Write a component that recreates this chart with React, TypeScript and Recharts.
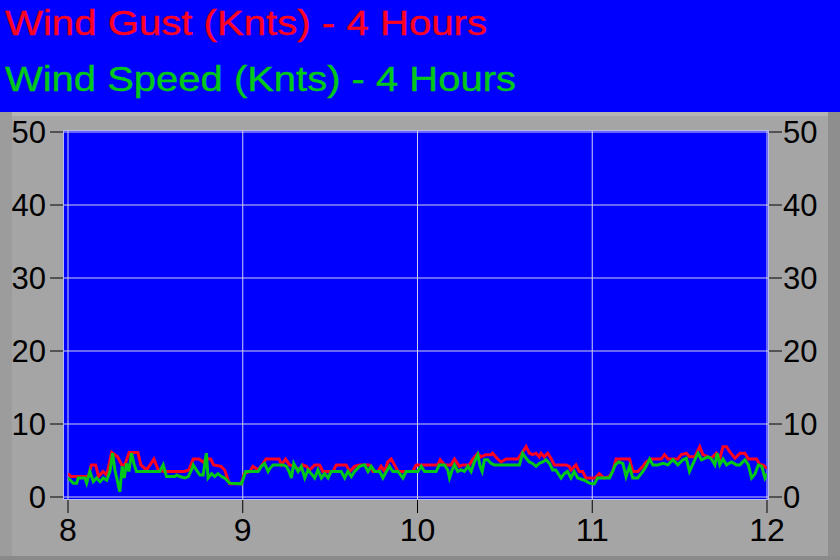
import React from 'react';
import { LineChart, Line, XAxis, YAxis, CartesianGrid } from 'recharts';

const hourTicks = [8, 9, 10, 11, 12];
const knotTicks = [0, 10, 20, 30, 40, 50];
const gustTitle = 'Wind Gust (Knts) - 4 Hours';
const speedTitle = 'Wind Speed (Knts) - 4 Hours';

// minutes after 8:00 and knots
const gustMinutes = [0, 1, 7, 8, 9.5, 10.5, 12, 13.3, 15, 17, 18.5, 19.5, 21, 24, 25, 27, 29.5, 31, 33, 40, 41.5, 43, 45, 46.4, 47.5, 49, 50, 52.5, 53.8, 55, 55.5, 59.5, 60.5, 62.4, 63.5, 65.3, 67, 68, 72.5, 73.3, 74.7, 76.1, 77.8, 79.5, 80.7, 81.8, 83, 84.7, 86.4, 87.5, 91, 92.1, 95.5, 96.7, 98.4, 100.1, 103.5, 104.7, 106.4, 107.5, 108.7, 109.8, 111, 112.1, 113.3, 118.4, 119.5, 127, 127.8, 129.3, 131.5, 132.7, 134.4, 135.5, 137.8, 139, 140.7, 141.8, 143.5, 145.3, 145.8, 147.5, 148.7, 150.4, 154.4, 155.5, 157.3, 158.4, 159.5, 160.7, 161.8, 162.4, 163.5, 164.7, 165.8, 167, 171, 172.1, 172.7, 174.4, 175.5, 176.7, 177.8, 181, 182.4, 184.1, 185.9, 187, 188.2, 192.8, 193.9, 195.6, 197.4, 198.5, 200.2, 203.7, 204.8, 206, 209.4, 210.6, 212.3, 213.4, 215.2, 216.9, 218, 219.8, 220.9, 222.6, 223.8, 224.9, 226.1, 227.2, 229, 230.7, 232.4, 233.6, 236.4, 237.6, 238.7, 240];
const gustKnots = [3.2, 2.8, 2.8, 4.4, 4.4, 2.8, 3.5, 3.0, 6.1, 5.5, 4.4, 4.4, 6.1, 6.1, 4.4, 3.7, 5.2, 3.7, 3.5, 3.5, 3.7, 5.2, 5.2, 4.8, 5.2, 5.2, 4.4, 4.2, 3.7, 2.3, 1.8, 1.8, 3.2, 3.5, 4.2, 3.7, 4.6, 5.2, 5.2, 4.4, 5.2, 4.4, 4.2, 3.7, 4.4, 4.2, 3.7, 4.4, 4.4, 3.5, 3.5, 4.4, 4.4, 3.5, 4.2, 4.4, 4.4, 3.5, 3.5, 4.2, 3.5, 4.8, 5.2, 4.4, 3.5, 3.5, 4.4, 4.4, 5.1, 4.4, 4.4, 5.2, 4.2, 4.4, 4.4, 5.2, 6.0, 5.5, 5.8, 5.8, 6.0, 5.2, 4.8, 5.2, 5.2, 5.8, 6.9, 6.0, 5.8, 6.0, 5.5, 6.0, 5.5, 6.0, 5.3, 4.4, 4.4, 4.2, 3.7, 4.4, 3.5, 3.5, 2.6, 2.6, 3.2, 2.6, 2.8, 3.5, 5.2, 5.2, 3.5, 3.5, 4.2, 4.8, 5.2, 5.2, 5.8, 5.2, 5.2, 5.8, 6.0, 5.5, 5.5, 6.9, 5.8, 5.5, 5.3, 6.0, 5.3, 6.9, 6.9, 6.2, 5.3, 6.0, 6.0, 5.2, 5.2, 4.4, 4.4, 3.9];

const speedMinutes = [0, 1.8, 3, 3.5, 5.8, 6.4, 7.5, 8.7, 9.8, 11, 12.1, 13.3, 14.4, 15.3, 16.1, 16.9, 17.8, 18.6, 19.3, 20.1, 20.9, 21.8, 22.6, 23.5, 31.5, 32.7, 33.8, 36.7, 37.3, 38.4, 40.1, 41.3, 42.4, 43, 44.1, 45.3, 46.4, 47.5, 48.1, 49.3, 50.4, 51.5, 52.7, 53.8, 55.5, 59.5, 60.1, 61, 65.3, 66.4, 67.5, 68.7, 69.3, 70.4, 73.8, 75, 75.9, 76.7, 77.5, 79, 80.1, 81.3, 82.4, 83.5, 84.7, 85.8, 87, 88.1, 89.3, 90.4, 93.8, 95, 96.1, 97.3, 98.4, 100.1, 101.8, 103, 104.1, 105.3, 107, 108.1, 109.3, 110.4, 111.5, 113.3, 115, 116.1, 120.1, 121.3, 122.4, 126.4, 127.5, 129.3, 130.4, 131, 131.9, 132.7, 133.8, 135, 136.1, 137.3, 138.4, 139.5, 140.7, 141.5, 142.2, 143, 144.1, 145.3, 146.4, 155, 156.1, 157.3, 158.4, 159.5, 160.7, 161.8, 163, 164.1, 165.3, 166.4, 167.5, 169.3, 170.4, 171.5, 172.7, 173.8, 175, 177.3, 179, 180.7, 181.8, 184.1, 185.9, 187, 187.9, 189.1, 190.5, 191.6, 192.8, 193.9, 195.6, 197.4, 198.5, 199.7, 200.8, 202.5, 204.3, 206, 207.7, 209.4, 211.1, 212.3, 213.4, 215.2, 216.3, 217.5, 218.6, 219.8, 220.9, 222.1, 222.9, 223.8, 224.9, 226.1, 227.8, 229.5, 230.7, 232.4, 233.6, 234.7, 235.9, 237, 238.2, 239.3, 240];
const speedKnots = [2.6, 1.9, 1.9, 2.6, 2.6, 1.9, 3.5, 2.1, 2.6, 2.1, 2.6, 2.3, 3.5, 6.0, 3.7, 2.3, 0.7, 4.2, 2.6, 4.6, 3.5, 6.0, 4.6, 3.5, 3.5, 4.4, 2.8, 2.8, 3.0, 2.8, 2.6, 2.8, 3.7, 4.4, 3.7, 3.0, 3.0, 6.0, 2.6, 3.2, 2.8, 3.2, 2.8, 2.6, 1.9, 1.8, 2.4, 3.5, 3.5, 4.2, 4.6, 3.5, 3.9, 4.4, 4.4, 4.2, 3.5, 2.6, 4.6, 3.5, 4.2, 2.6, 3.7, 3.2, 2.6, 3.7, 2.6, 3.2, 2.6, 3.5, 3.5, 2.6, 3.5, 2.8, 3.5, 4.2, 4.4, 3.5, 4.2, 3.5, 3.5, 2.6, 3.5, 4.2, 3.5, 3.5, 2.6, 3.5, 3.5, 4.2, 3.5, 3.5, 4.4, 4.4, 3.7, 2.6, 3.7, 4.4, 3.5, 3.7, 3.5, 4.2, 3.5, 4.8, 5.8, 4.2, 3.5, 5.1, 5.1, 4.6, 4.4, 4.4, 6.0, 5.3, 4.8, 4.6, 4.2, 4.6, 4.8, 5.1, 4.6, 3.7, 3.7, 2.6, 3.2, 3.5, 2.6, 3.5, 2.6, 2.3, 1.9, 1.8, 2.6, 2.6, 2.6, 3.5, 4.4, 4.8, 4.6, 2.8, 4.2, 2.6, 2.6, 3.5, 4.2, 5.2, 4.4, 4.4, 4.6, 4.4, 5.1, 4.4, 5.1, 5.3, 3.5, 5.1, 6.0, 5.1, 5.3, 5.5, 5.2, 4.4, 6.0, 4.4, 5.2, 4.4, 4.8, 4.4, 4.4, 5.1, 4.4, 2.6, 3.2, 4.4, 4.2, 2.6, 3.2];

const gustData = gustMinutes.map((m, i) => ({ t: 8 + m / 60, v: gustKnots[i] }));
const speedData = speedMinutes.map((m, i) => ({ t: 8 + m / 60, v: speedKnots[i] }));

const FONT = '"Liberation Sans", Arial, sans-serif';
const RED = '#ff0020';
const GREEN = '#00c818';

export default function App() {
  return (
    <div style={{ position: 'absolute', left: 0, top: 0, width: 840, height: 560, overflow: 'hidden', background: '#a5a5a5' }}>
      <svg width={840} height={112} style={{ position: 'absolute', left: 0, top: 0, display: 'block' }}>
        <rect x={0} y={0} width={840} height={112} fill="#0000ff" />
        <text x={5} y={35} fontFamily={FONT} fontSize={35} fill={RED} stroke={RED} strokeWidth={0.4} textLength={482} lengthAdjust="spacingAndGlyphs">{gustTitle}</text>
        <text x={5} y={91} fontFamily={FONT} fontSize={35} fill={GREEN} stroke={GREEN} strokeWidth={0.4} textLength={511} lengthAdjust="spacingAndGlyphs">{speedTitle}</text>
      </svg>
      <div style={{ position: 'absolute', left: 0, top: 112, width: 840, height: 4, background: '#b4b4b4' }} />
      <div style={{ position: 'absolute', left: 0, top: 112, width: 12, height: 448, background: '#9c9c9c' }} />
      <div style={{ position: 'absolute', left: 828, top: 112, width: 12, height: 448, background: '#8e8e8e' }} />
      <div style={{ position: 'absolute', left: 0, top: 556, width: 840, height: 4, background: '#8a8a8a' }} />
      <div style={{ position: 'absolute', left: 0, top: 112 }}>
        <LineChart width={840} height={448} margin={{ top: 19, right: 0, bottom: 0, left: 0 }}>
          <CartesianGrid yAxisId="left" fill="#0000ff" stroke="#d0d0e8" strokeWidth={1} horizontalValues={knotTicks} verticalValues={hourTicks} />
          <XAxis
            type="number"
            dataKey="t"
            domain={[8, 12]}
            ticks={hourTicks}
            allowDataOverflow
            padding={{ left: 4, right: 1 }}
            height={61}
            axisLine={false}
            tickSize={14}
            tickMargin={5}
            tickLine={{ stroke: '#000' }}
            tick={{ fill: '#000', fontSize: 32, fontFamily: FONT }}
          />
          <YAxis
            yAxisId="left"
            type="number"
            domain={[0, 50]}
            ticks={knotTicks}
            allowDataOverflow
            width={64}
            padding={{ top: 1, bottom: 2 }}
            axisLine={false}
            tickSize={14}
            tickMargin={4}
            tickLine={{ stroke: '#000' }}
            tick={{ fill: '#000', fontSize: 31, fontFamily: FONT }}
          />
          <YAxis
            yAxisId="right"
            orientation="right"
            type="number"
            domain={[0, 50]}
            ticks={knotTicks}
            allowDataOverflow
            width={72}
            padding={{ top: 1, bottom: 2 }}
            axisLine={false}
            tickSize={14}
            tickMargin={1}
            tickLine={{ stroke: '#000' }}
            tick={{ fill: '#000', fontSize: 31, fontFamily: FONT }}
          />
          <Line yAxisId="left" data={gustData} dataKey="v" type="linear" stroke={RED} strokeWidth={3} dot={false} activeDot={false} isAnimationActive={false} />
          <Line yAxisId="right" data={speedData} dataKey="v" type="linear" stroke={GREEN} strokeWidth={3} dot={false} activeDot={false} isAnimationActive={false} />
        </LineChart>
      </div>
      <div style={{ position: 'absolute', left: 63, top: 130, width: 706, height: 370, border: '1px solid #b8b8f0', boxSizing: 'border-box', pointerEvents: 'none' }} />
    </div>
  );
}
